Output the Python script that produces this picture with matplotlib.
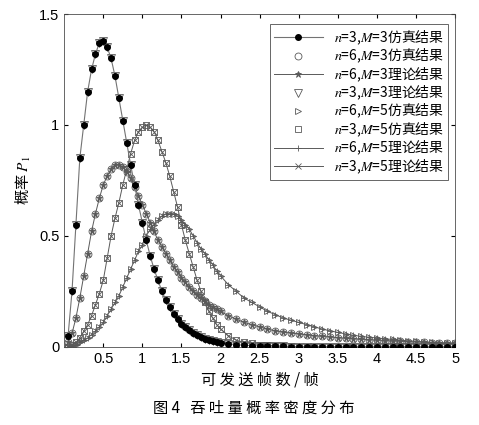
import matplotlib
matplotlib.use("Agg")
import matplotlib.pyplot as plt
import numpy as np

plt.rcParams['font.family'] = ['Noto Sans CJK SC', 'DejaVu Sans']
plt.rcParams['mathtext.fontset'] = 'stix'

x = [0.05,0.1,0.15,0.2,0.25,0.3,0.35,0.4,0.45,0.5,0.55,0.6,0.65,0.7,0.75,0.8,0.85,0.9,0.95,1.0,
     1.05,1.1,1.15,1.2,1.25,1.3,1.35,1.4,1.45,1.5,1.55,1.6,1.65,1.7,1.75,1.8,1.85,1.9,1.95,2.0,
     2.1,2.2,2.3,2.4,2.5,2.6,2.7,2.8,2.9,3.0,3.1,3.2,3.3,3.4,3.5,3.6,3.7,3.8,3.9,4.0,
     4.1,4.2,4.3,4.4,4.5,4.6,4.7,4.8,4.9,5.0]

n3m3 = [0.05,0.25,0.55,0.85,1.0,1.15,1.25,1.32,1.37,1.38,1.35,1.3,1.22,1.12,1.02,0.92,0.82,0.73,0.64,0.56,
        0.48,0.41,0.35,0.3,0.25,0.21,0.18,0.15,0.125,0.105,0.088,0.074,0.062,0.052,0.044,0.037,0.031,0.026,0.022,0.018,
        0.013,0.010,0.007,0.005,0.004,0.003,0.002,0.0015,0.001,0.001,0,0,0,0,0,0,0,0,0,0,
        0,0,0,0,0,0,0,0,0,0]
n6m3 = [0.02,0.06,0.13,0.22,0.32,0.42,0.52,0.6,0.67,0.73,0.77,0.8,0.82,0.82,0.81,0.79,0.76,0.72,0.68,0.64,
        0.6,0.56,0.52,0.48,0.45,0.42,0.39,0.36,0.335,0.31,0.29,0.27,0.25,0.235,0.22,0.205,0.19,0.18,0.17,0.16,
        0.14,0.125,0.11,0.10,0.09,0.08,0.072,0.066,0.062,0.058,0.054,0.05,0.047,0.044,0.041,0.038,0.036,0.034,0.032,0.030,
        0.028,0.026,0.025,0.023,0.022,0.021,0.019,0.018,0.017,0.016]
n3m5 = [0.0,0.01,0.02,0.04,0.07,0.1,0.14,0.19,0.24,0.3,0.4,0.5,0.58,0.65,0.73,0.8,0.87,0.93,0.97,0.99,
        1.0,0.99,0.97,0.93,0.88,0.83,0.77,0.7,0.63,0.55,0.48,0.42,0.36,0.3,0.25,0.2,0.16,0.13,0.1,0.08,
        0.05,0.03,0.02,0.015,0.01,0.007,0.005,0.003,0.002,0.001,0,0,0,0,0,0,0,0,0,0,
        0,0,0,0,0,0,0,0,0,0]
n6m5 = [0.0,0.005,0.01,0.02,0.03,0.04,0.055,0.07,0.09,0.11,0.14,0.17,0.2,0.23,0.27,0.31,0.35,0.39,0.43,0.46,
        0.5,0.53,0.55,0.57,0.59,0.6,0.6,0.6,0.59,0.57,0.55,0.53,0.5,0.47,0.44,0.42,0.39,0.37,0.34,0.32,
        0.28,0.25,0.22,0.2,0.18,0.16,0.145,0.13,0.12,0.11,0.1,0.09,0.08,0.072,0.065,0.058,0.052,0.047,0.043,0.04,
        0.036,0.033,0.03,0.027,0.025,0.022,0.02,0.018,0.016,0.015]

fig = plt.figure(figsize=(4.79, 4.25), dpi=100)
ax = fig.add_axes([0.134, 0.184, 0.816, 0.783])

ms = 5
ax.plot(x, n3m3, '-o', color='0.45', mfc='black', mec='black', ms=4, lw=0.8, label='$n$=3,$M$=3仿真结果', zorder=5)
ax.plot(x, n6m3, 'o', color='0.35', mfc='none', ms=ms, mew=0.6, label='$n$=6,$M$=3仿真结果')
ax.plot(x, n6m3, '-*', color='0.35', ms=ms, lw=0.7, mew=0.6, label='$n$=6,$M$=3理论结果')
ax.plot(x, n3m3, 'v', color='0.35', mfc='none', ms=ms+1, mew=0.6, label='$n$=3,$M$=3理论结果')
ax.plot(x, n6m5, '>', color='0.35', mfc='none', ms=ms, mew=0.6, label='$n$=6,$M$=5仿真结果')
ax.plot(x, n3m5, 's', color='0.35', mfc='none', ms=ms, mew=0.6, label='$n$=3,$M$=5仿真结果')
ax.plot(x, n6m5, '-+', color='0.35', ms=ms, lw=0.7, mew=0.6, label='$n$=6,$M$=5理论结果')
ax.plot(x, n3m5, '-x', color='0.35', ms=ms-1, lw=0.7, mew=0.6, label='$n$=3,$M$=5理论结果')

ax.set_xlim(0, 5)
ax.set_ylim(0, 1.5)
ax.set_xticks([0.5,1,1.5,2,2.5,3,3.5,4,4.5,5])
ax.set_xticklabels(['0.5','1','1.5','2','2.5','3','3.5','4','4.5','5'])
ax.set_yticks([0,0.5,1,1.5])
ax.set_yticklabels(['0','0.5','1','1.5'])
ax.tick_params(direction='in', top=True, right=True, labelsize=10.5, length=3)
for lab in ax.get_xticklabels() + ax.get_yticklabels():
    lab.set_family('Liberation Sans')
for s in ax.spines.values():
    s.set_linewidth(0.6); s.set_color('0.3')
ax.set_xlabel('可 发 送 帧 数 / 帧', fontsize=11)
ax.set_ylabel('概率 $P_1$', fontsize=11)
leg = ax.legend(loc='upper right', fontsize=10, bbox_to_anchor=(1.0, 0.99),
                handlelength=3.5, labelspacing=0.0, borderpad=0.3, fancybox=False, edgecolor='0.3', framealpha=1)
leg.get_frame().set_linewidth(0.6)
fig.text(0.53, 0.03, '图 4   吞 吐 量 概 率 密 度 分 布', ha='center', fontsize=11)
fig.savefig('out.png', dpi=100)
